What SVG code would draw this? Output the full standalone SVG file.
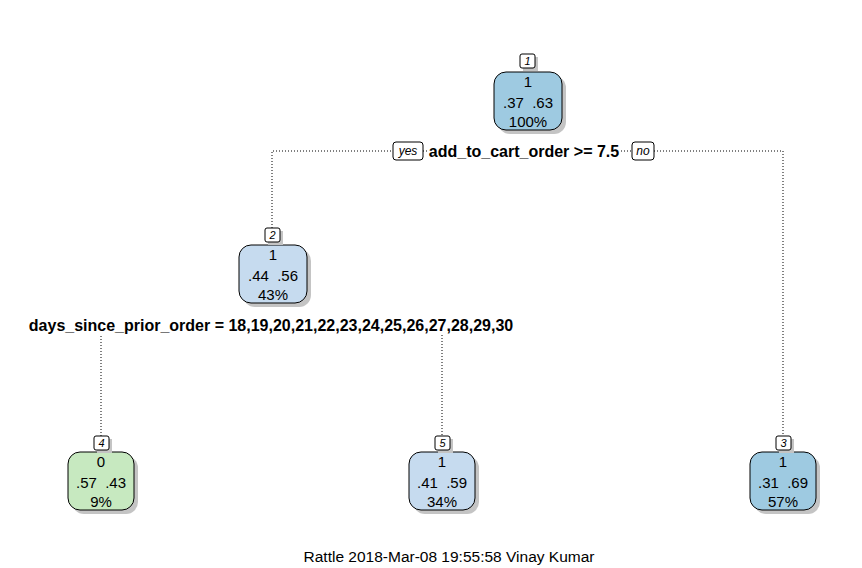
<svg xmlns="http://www.w3.org/2000/svg" width="862" height="568" viewBox="0 0 862 568">
<style>
  text { font-family: "Liberation Sans", Arial, sans-serif; fill: #000; }
  .box { stroke: #000; stroke-width: 1; }
  .shadow { fill: #c4c4c4; }
  .c1 { fill: #9ecae1; }
  .c2 { fill: #c6dbef; }
  .c0 { fill: #c7e9c0; }
  .nt { font-size: 15px; text-anchor: middle; white-space: pre; }
  .num { font-size: 11px; font-style: italic; text-anchor: middle; }
  .nbox { fill: #fff; stroke: #000; stroke-width: 1; }
  .split { font-size: 16px; font-weight: bold; text-anchor: middle; }
  .yn { font-size: 12px; font-style: italic; text-anchor: middle; }
  .conn { fill: none; stroke: #000; stroke-width: 1; stroke-dasharray: 1 2; }
  .foot { font-size: 15.5px; text-anchor: middle; }
</style>
<rect width="862" height="568" fill="#fff"/>
<g id="connectors">
  <path class="conn" d="M272,228 V151 H783 V436"/>
  <path class="conn" d="M101,436 V325 H442 V436"/>
</g>
<g id="split1">
  <rect x="428" y="141" width="193" height="20" fill="#fff"/>
  <text class="split" x="524" y="157">add_to_cart_order &gt;= 7.5</text>
  <rect x="393" y="142" width="30" height="18" rx="3" fill="#fff" stroke="#000"/>
  <text class="yn" x="408" y="155">yes</text>
  <rect x="632" y="142" width="22" height="18" rx="3" fill="#fff" stroke="#000"/>
  <text class="yn" x="643" y="155">no</text>
</g>
<g id="split2">
  <rect x="28" y="315" width="486" height="19" fill="#fff"/>
  <text class="split" x="271" y="331">days_since_prior_order = 18,19,20,21,22,23,24,25,26,27,28,29,30</text>
</g>
<g id="node1">
  <rect class="shadow" x="498" y="76" width="68" height="58" rx="12"/>
  <rect class="box c1" x="494" y="72" width="68" height="58" rx="12"/>
  <rect class="shadow" x="523" y="57" width="15" height="14"/>
  <rect class="nbox" x="520" y="54" width="15" height="14" rx="2"/>
  <text class="num" x="527.5" y="65">1</text>
  <text class="nt" x="528" y="87">1</text>
  <text class="nt" x="528" y="108">.37  .63</text>
  <text class="nt" x="528" y="127">100%</text>
</g>
<g id="node2">
  <rect class="shadow" x="243" y="249" width="68" height="58" rx="12"/>
  <rect class="box c2" x="239" y="245" width="68" height="58" rx="12"/>
  <rect class="shadow" x="268" y="231" width="15" height="14"/>
  <rect class="nbox" x="265" y="228" width="15" height="14" rx="2"/>
  <text class="num" x="272.5" y="239">2</text>
  <text class="nt" x="273" y="260">1</text>
  <text class="nt" x="273" y="281">.44  .56</text>
  <text class="nt" x="273" y="300">43%</text>
</g>
<g id="node4">
  <rect class="shadow" x="72" y="456" width="66" height="58" rx="12"/>
  <rect class="box c0" x="68" y="452" width="66" height="58" rx="12"/>
  <rect class="shadow" x="97" y="439" width="15" height="14"/>
  <rect class="nbox" x="94" y="436" width="15" height="14" rx="2"/>
  <text class="num" x="101.5" y="447">4</text>
  <text class="nt" x="101" y="467">0</text>
  <text class="nt" x="101" y="488">.57  .43</text>
  <text class="nt" x="101" y="507">9%</text>
</g>
<g id="node5">
  <rect class="shadow" x="413" y="456" width="66" height="58" rx="12"/>
  <rect class="box c2" x="409" y="452" width="66" height="58" rx="12"/>
  <rect class="shadow" x="438" y="439" width="15" height="14"/>
  <rect class="nbox" x="435" y="436" width="15" height="14" rx="2"/>
  <text class="num" x="442.5" y="447">5</text>
  <text class="nt" x="442" y="467">1</text>
  <text class="nt" x="442" y="488">.41  .59</text>
  <text class="nt" x="442" y="507">34%</text>
</g>
<g id="node3">
  <rect class="shadow" x="754" y="456" width="66" height="58" rx="12"/>
  <rect class="box c1" x="750" y="452" width="66" height="58" rx="12"/>
  <rect class="shadow" x="779" y="439" width="15" height="14"/>
  <rect class="nbox" x="776" y="436" width="15" height="14" rx="2"/>
  <text class="num" x="783.5" y="447">3</text>
  <text class="nt" x="783" y="467">1</text>
  <text class="nt" x="783" y="488">.31  .69</text>
  <text class="nt" x="783" y="507">57%</text>
</g>
<text class="foot" x="449" y="562">Rattle 2018-Mar-08 19:55:58 Vinay Kumar</text>
</svg>
